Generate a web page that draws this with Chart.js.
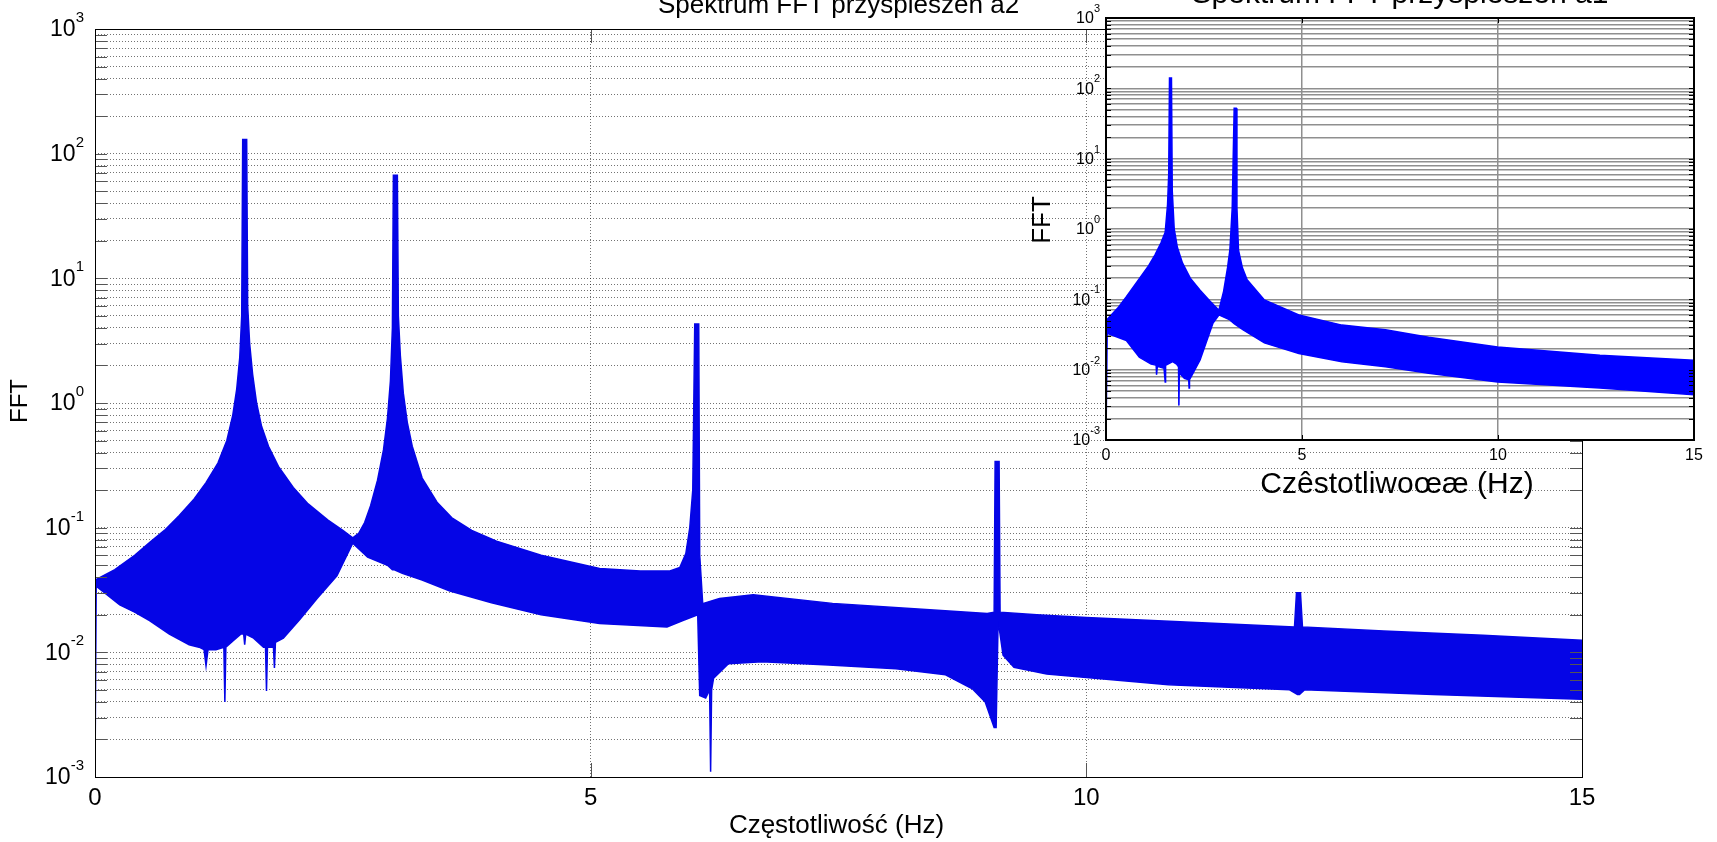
<!DOCTYPE html>
<html>
<head>
<meta charset="utf-8">
<script src="https://cdn.jsdelivr.net/npm/chart.js@4.4.1/dist/chart.umd.min.js"></script>
<style>
  html, body { margin: 0; padding: 0; background: #fff; overflow: hidden; }
  #wrap { position: relative; width: 1717px; height: 842px; }
  #wrap canvas { position: absolute; left: 0; top: 0; }
</style>
</head>
<body>
<div id="wrap">
  <canvas id="main-chart" width="1717" height="842"></canvas>
  <canvas id="inset-chart" width="1717" height="842"></canvas>
</div>
<script>
'use strict';

// ---- axes ----
const X_TICKS   = [0, 5, 10, 15];
const DECADES   = [-3, -2, -1, 0, 1, 2, 3];
const MANTISSAS = [1, 2, 3, 4, 5, 6, 7, 8, 9];

// ---- a2 spectrum (main plot), envelope of the FFT trace ----
const A2_UP_F = [
  0, 0.20, 0.40, 0.55, 0.70, 0.85, 1.00, 1.12, 1.24, 1.33,
  1.39, 1.43, 1.46, 1.48, 1.49, 1.53, 1.54, 1.56, 1.59, 1.63,
  1.68, 1.75, 1.85, 2.00, 2.15, 2.35, 2.50, 2.60, 2.66, 2.72,
  2.78, 2.85, 2.91, 2.95, 2.98, 3.00, 3.01, 3.05, 3.06, 3.08,
  3.11, 3.15, 3.20, 3.30, 3.45, 3.60, 3.80, 4.05, 4.50, 5.09,
  5.50, 5.80, 5.90, 5.96, 6.00, 6.03, 6.05, 6.09, 6.10, 6.13,
  6.30, 6.64, 7.44, 8.46, 9.00, 9.07, 9.08, 9.12, 9.13, 9.50,
  10.0, 11.0, 12.10, 12.12, 12.16, 12.18, 13.0, 14.0, 15.0,
];
const A2_UP_V = [
  0.038, 0.046, 0.060, 0.076, 0.095, 0.125, 0.17, 0.23, 0.33, 0.5,
  0.8, 1.3, 2.3, 5, 130, 130, 6, 3.0, 1.7, 1.0,
  0.65, 0.45, 0.31, 0.21, 0.155, 0.115, 0.095, 0.083, 0.09, 0.11,
  0.15, 0.24, 0.42, 0.75, 1.5, 4, 67, 67, 5, 2.4,
  1.2, 0.7, 0.45, 0.25, 0.16, 0.12, 0.095, 0.078, 0.06, 0.047,
  0.045, 0.045, 0.048, 0.062, 0.1, 0.2, 4.3, 4.3, 0.06, 0.0246,
  0.027, 0.029, 0.0247, 0.0219, 0.0205, 0.021, 0.34, 0.34, 0.021, 0.020,
  0.019, 0.0175, 0.016, 0.03, 0.03, 0.016, 0.0148, 0.0137, 0.0125,
];
const A2_LO_F = [
  0, 0.012, 0.25, 0.40, 0.55, 0.75, 0.95, 1.05, 1.10, 1.12,
  1.14, 1.22, 1.30, 1.31, 1.32, 1.40, 1.47, 1.50, 1.51, 1.52,
  1.60, 1.70, 1.72, 1.73, 1.74, 1.80, 1.81, 1.82, 1.90, 2.07,
  2.24, 2.44, 2.60, 2.75, 2.95, 3.00, 3.02, 3.10, 3.30, 3.58,
  4.00, 4.50, 5.09, 5.77, 5.93, 6.08, 6.10, 6.16, 6.20, 6.21,
  6.22, 6.24, 6.39, 6.73, 7.40, 8.08, 8.58, 8.85, 8.98, 9.07,
  9.09, 9.11, 9.16, 9.27, 9.60, 10.83, 12.05, 12.13, 12.15, 12.20,
  13.50, 15.0,
];
const A2_LO_V = [
  0.001, 0.034, 0.024, 0.021, 0.018, 0.014, 0.0115, 0.011, 0.0105, 0.0078,
  0.0105, 0.0105, 0.011, 0.004, 0.011, 0.0125, 0.014, 0.014, 0.0115, 0.014,
  0.013, 0.011, 0.011, 0.0049, 0.011, 0.011, 0.0075, 0.012, 0.013, 0.0185,
  0.027, 0.041, 0.075, 0.058, 0.05, 0.046, 0.046, 0.043, 0.038, 0.031,
  0.025, 0.02, 0.017, 0.016, 0.018, 0.02, 0.0045, 0.0043, 0.005, 0.0011,
  0.005, 0.0062, 0.0081, 0.0084, 0.0079, 0.0074, 0.0066, 0.0051, 0.004, 0.0025,
  0.0025, 0.018, 0.0095, 0.0076, 0.0067, 0.0055, 0.005, 0.0046, 0.0046, 0.005,
  0.0046, 0.0042,
];

// ---- a1 spectrum (inset) ----
const A1_UP_F = [
  0, 0.30, 0.52, 0.80, 1.07, 1.25, 1.40, 1.51, 1.57, 1.60,
  1.62, 1.67, 1.69, 1.74, 1.82, 1.95, 2.15, 2.40, 2.65, 2.88,
  3.00, 3.10, 3.16, 3.22, 3.27, 3.32, 3.34, 3.38, 3.48, 3.60,
  4.04, 4.92, 6.02, 7.13, 8.23, 9.99, 12.6, 15.0,
];
const A1_UP_V = [
  0.05, 0.075, 0.109, 0.18, 0.29, 0.43, 0.63, 0.9, 2.2, 6,
  140, 140, 3.5, 1.0, 0.55, 0.33, 0.2, 0.135, 0.095, 0.07,
  0.13, 0.28, 0.5, 2.0, 52, 52, 2, 0.5, 0.28, 0.19,
  0.098, 0.06, 0.043, 0.037, 0.029, 0.021, 0.016, 0.0136,
];
const A1_LO_F = [
  0, 0.03, 0.52, 0.85, 1.15, 1.24, 1.28, 1.29, 1.31, 1.48,
  1.50, 1.51, 1.52, 1.70, 1.80, 1.85, 1.86, 1.87, 2.00, 2.11,
  2.12, 2.13, 2.20, 2.40, 2.73, 2.88, 3.16, 3.27, 3.49, 4.04,
  4.92, 6.02, 7.13, 8.23, 9.99, 12.6, 15.0,
];
const A1_LO_V = [
  0.001, 0.033, 0.026, 0.015, 0.012, 0.0117, 0.0115, 0.0085, 0.0112, 0.0105,
  0.0105, 0.0067, 0.0115, 0.013, 0.012, 0.011, 0.0031, 0.009, 0.0075, 0.0072,
  0.0055, 0.0072, 0.0085, 0.0137, 0.046, 0.06, 0.051, 0.045, 0.037, 0.024,
  0.017, 0.013, 0.011, 0.0089, 0.0067, 0.0055, 0.0044,
];

const FONT = '"Liberation Sans", Arial, Helvetica, sans-serif';
Chart.defaults.font.family = FONT;
Chart.defaults.color = '#000';

// 1..9 x 10^d grid values for the log axis
const Y_TICKS = [];
DECADES.forEach(d => {
  if (d === DECADES[DECADES.length - 1]) { Y_TICKS.push(Math.pow(10, d)); return; }
  MANTISSAS.forEach(m => Y_TICKS.push(m * Math.pow(10, d)));
});

function pts(fs, vs) {
  return fs.map((f, i) => ({ x: f, y: vs[i] }));
}

function bandSets(upF, upV, loF, loV, color) {
  return [
    { data: pts(upF, upV), borderColor: color, backgroundColor: color,
      borderWidth: 1.5, pointRadius: 0, tension: 0, fill: '+1' },
    { data: pts(loF, loV), borderColor: color, backgroundColor: color,
      borderWidth: 1.5, pointRadius: 0, tension: 0, fill: false },
  ];
}

// MATLAB-like frame, inward ticks, 10^n labels and titles
function matlabAxes(o) {
  return {
    id: 'matlab_' + o.id,
    beforeDraw(chart) {
      if (!o.white) return;
      const a = chart.chartArea, ctx = chart.ctx;
      ctx.save();
      ctx.fillStyle = '#fff';
      ctx.fillRect(a.left, a.top, a.right - a.left, a.bottom - a.top);
      ctx.restore();
    },
    afterDraw(chart) {
      const a = chart.chartArea, ctx = chart.ctx;
      const xs = chart.scales.x, ys = chart.scales.y;
      ctx.save();

      ctx.strokeStyle = o.tickColor;
      ctx.lineWidth = 1;
      ctx.beginPath();
      ys.ticks.forEach(t => {
        const py = Math.round(ys.getPixelForValue(t.value)) + 0.5;
        ctx.moveTo(a.left, py);  ctx.lineTo(a.left + o.tickLen, py);
        ctx.moveTo(a.right, py); ctx.lineTo(a.right - o.tickLen, py);
      });
      xs.ticks.forEach(t => {
        const px = Math.round(xs.getPixelForValue(t.value)) + 0.5;
        ctx.moveTo(px, a.bottom); ctx.lineTo(px, a.bottom - o.xTickLen);
        ctx.moveTo(px, a.top);    ctx.lineTo(px, a.top + o.xTickLen);
      });
      ctx.stroke();

      ctx.strokeStyle = '#000';
      ctx.lineWidth = o.frameWidth;
      const off = o.frameWidth % 2 ? 0.5 : 0;
      ctx.strokeRect(a.left + off, a.top + off, a.right - a.left, a.bottom - a.top);

      ctx.fillStyle = '#000';
      DECADES.forEach(e => {
        const py = ys.getPixelForValue(Math.pow(10, e));
        const s = String(e);
        ctx.font = o.supFont;
        const ew = ctx.measureText(s).width;
        ctx.textAlign = 'left';
        ctx.textBaseline = 'alphabetic';
        ctx.fillText(s, o.labelRight - ew, py - o.supRaise);
        ctx.font = o.baseFont;
        ctx.textAlign = 'right';
        ctx.textBaseline = 'middle';
        ctx.fillText('10', o.labelRight - ew, py + o.baseShift);
      });

      const cx = (a.left + a.right) / 2;
      ctx.textAlign = 'center';
      ctx.textBaseline = 'alphabetic';
      ctx.font = o.titleFont;
      ctx.fillText(o.title, cx, o.titleY);
      ctx.font = o.xTitleFont;
      ctx.fillText(o.xTitle, cx + o.xTitleDx, o.xTitleY);

      ctx.translate(o.yTitleX, o.yTitleY);
      ctx.rotate(-Math.PI / 2);
      ctx.font = o.yTitleFont;
      ctx.textBaseline = 'middle';
      ctx.fillText(o.yTitle, 0, 0);
      ctx.restore();
    },
  };
}

function makeChart(canvasId, datasets, box, grid, xFont, xPad, plugin) {
  return new Chart(document.getElementById(canvasId), {
    type: 'line',
    data: { datasets },
    options: {
      responsive: false,
      animation: false,
      devicePixelRatio: 1,
      events: [],
      layout: { padding: { left: 0, top: box.top, right: 1717 - box.right, bottom: 0 } },
      plugins: { legend: { display: false }, tooltip: { enabled: false } },
      scales: {
        x: {
          type: 'linear',
          min: 0,
          max: 15,
          afterBuildTicks: s => { s.ticks = X_TICKS.map(v => ({ value: v })); },
          afterFit: s => { s.height = 842 - box.bottom; },
          ticks: { font: { size: xFont }, padding: xPad, color: '#000', autoSkip: false, maxRotation: 0 },
          grid: { color: grid.color, lineWidth: grid.width, drawTicks: false },
          border: { display: false, dash: grid.dash },
        },
        y: {
          type: 'logarithmic',
          min: 1e-3,
          max: 1e3,
          afterBuildTicks: s => { s.ticks = Y_TICKS.map(v => ({ value: v })); },
          afterFit: s => { s.width = box.left; },
          ticks: { display: false },
          grid: { color: grid.color, lineWidth: grid.width, drawTicks: false },
          border: { display: false, dash: grid.dash },
        },
      },
    },
    plugins: [plugin],
  });
}

makeChart('main-chart',
  bandSets(A2_UP_F, A2_UP_V, A2_LO_F, A2_LO_V, '#0505e6'),
  { left: 95, right: 1582, top: 29, bottom: 777 },
  { color: 'rgba(0,0,0,0.55)', width: 1, dash: [1, 2] },
  24, 7,
  matlabAxes({
    id: 'main', white: false, tickColor: '#555', tickLen: 12, xTickLen: 14, frameWidth: 1,
    labelRight: 84, baseFont: '23px ' + FONT, supFont: '15px ' + FONT, supRaise: 7, baseShift: 1,
    title: 'Spektrum FFT przyspieszeń a2', titleFont: '26px ' + FONT, titleY: 13,
    xTitle: 'Częstotliwość (Hz)', xTitleFont: '26px ' + FONT, xTitleY: 833, xTitleDx: -2,
    yTitle: 'FFT', yTitleFont: '24px ' + FONT, yTitleX: 20, yTitleY: 401,
  }));

makeChart('inset-chart',
  bandSets(A1_UP_F, A1_UP_V, A1_LO_F, A1_LO_V, '#0000ff'),
  { left: 1106, right: 1694, top: 18, bottom: 440 },
  { color: '#8f8f8f', width: 1.5, dash: [] },
  16, 6,
  matlabAxes({
    id: 'inset', white: true, tickColor: '#000', tickLen: 5, xTickLen: 5, frameWidth: 2,
    labelRight: 1100, baseFont: '16px ' + FONT, supFont: '11px ' + FONT, supRaise: 6, baseShift: 1,
    title: 'Spektrum FFT przyspieszeñ a1', titleFont: '30px ' + FONT, titleY: 3,
    xTitle: 'Czêstotliwoœæ (Hz)', xTitleFont: '30px ' + FONT, xTitleY: 493, xTitleDx: -3,
    yTitle: 'FFT', yTitleFont: '26px ' + FONT, yTitleX: 1043, yTitleY: 220,
  }));
</script>
</body>
</html>
